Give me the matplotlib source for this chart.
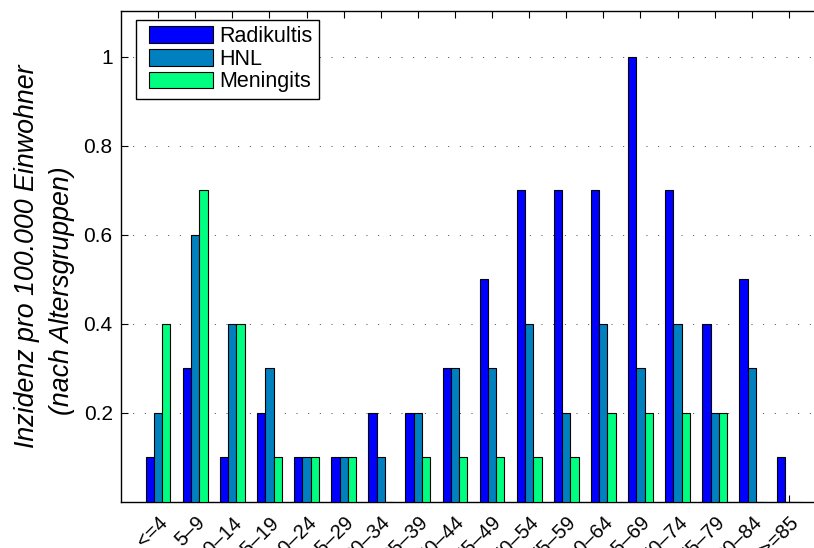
import numpy as np
import matplotlib
matplotlib.use("Agg")
import matplotlib.pyplot as plt
import matplotlib.patches as mpatches
from matplotlib.container import BarContainer
from matplotlib.legend_handler import HandlerPatch, update_from_first_child

plt.rcParams['font.family'] = ['Liberation Sans', 'DejaVu Sans']

# Altersgruppen und Inzidenzen je Krankheitsbild
groups = ['<=4', '5\u20139', '10\u201314', '15\u201319', '20\u201324', '25\u201329',
          '30\u201334', '35\u201339', '40\u201344', '45\u201349', '50\u201354', '55\u201359',
          '60\u201364', '65\u201369', '70\u201374', '75\u201379', '80\u201384', '>=85']
radikultis = [0.1, 0.3, 0.1, 0.2, 0.1, 0.1, 0.2, 0.2, 0.3, 0.5, 0.7, 0.7, 0.7, 1.0, 0.7, 0.4, 0.5, 0.1]
hnl = [0.2, 0.6, 0.4, 0.3, 0.1, 0.1, 0.1, 0.2, 0.3, 0.3, 0.4, 0.2, 0.4, 0.3, 0.4, 0.2, 0.3, 0.0]
meningits = [0.4, 0.7, 0.4, 0.1, 0.1, 0.1, 0.0, 0.1, 0.1, 0.1, 0.1, 0.1, 0.2, 0.2, 0.2, 0.2, 0.0, 0.0]
series_names = ['Radikultis', 'HNL', 'Meningits']
yticks = [0.2, 0.4, 0.6, 0.8, 1.0]
ytick_labels = ['0.2', '0.4', '0.6', '0.8', '1']

# winter-Farbtabelle, drei Stufen
colors = [(0, 0, 1), (0, 0.5, 0.75), (0, 1, 0.5)]

W, H = 814, 548
fig = plt.figure(figsize=(W / 100, H / 100), dpi=100)
# die Achse reicht rechts etwas über den Bildrand hinaus
ax = fig.add_axes([121 / W, (H - 502) / H, (826 - 121) / W, (502 - 11) / H])

x = np.arange(1, len(groups) + 1)
bw = 0.667 / 3
for i, (vals, name) in enumerate(zip([radikultis, hnl, meningits], series_names)):
    ax.bar(x + (i - 1) * bw, vals, width=bw, color=colors[i], edgecolor='black',
           linewidth=0.8, label=name, zorder=3)

ax.set_xlim(0, len(groups) + 1)
ax.set_ylim(0, 1.103)
ax.set_yticks(yticks)
ax.set_yticklabels(ytick_labels, fontsize=15)
ax.set_xticks(x)
ax.set_xticklabels(groups, rotation=45, ha='right', va='top', rotation_mode='anchor',
                   fontsize=14.5)
ax.tick_params(axis='both', direction='in', length=5, width=0.8, top=True, right=True)
ax.tick_params(axis='x', pad=8)
ax.tick_params(axis='y', pad=6)
ax.yaxis.grid(True, linestyle=(0, (1, 11)), color='0.25', linewidth=0.7, zorder=0)
for sp in ax.spines.values():
    sp.set_linewidth(1.0)

# y-Beschriftung, zwei Zeilen
fig.text(27 / W, 1 - 256 / H, 'Inzidenz pro 100.000 Einwohner', fontsize=19.3,
         style='italic', rotation=90, ha='center', va='center')
fig.text(62 / W, 1 - 291 / H, '(nach Altersgruppen)', fontsize=19.3,
         style='italic', rotation=90, ha='center', va='center')


# Legendenfelder mit etwas Abstand zum linken Rahmen
def legend_box(legend, orig_handle, xdescent, ydescent, width, height, fontsize):
    pad = 6.5 * 72 / 100
    return mpatches.Rectangle((-xdescent + pad, -ydescent), width - pad, height)


bar_handler = HandlerPatch(patch_func=legend_box, update_func=update_from_first_child)
leg = ax.legend(loc='upper left', bbox_to_anchor=(15 / 705, 1 - 9 / 491), borderaxespad=0,
                fontsize=15.5, handlelength=3.28, handleheight=0.8, labelspacing=0.08,
                handletextpad=0.33, borderpad=0.28, fancybox=False, framealpha=1,
                edgecolor='black', handler_map={BarContainer: bar_handler})
leg.get_frame().set_linewidth(1.0)

fig.savefig('out.png', dpi=100)
